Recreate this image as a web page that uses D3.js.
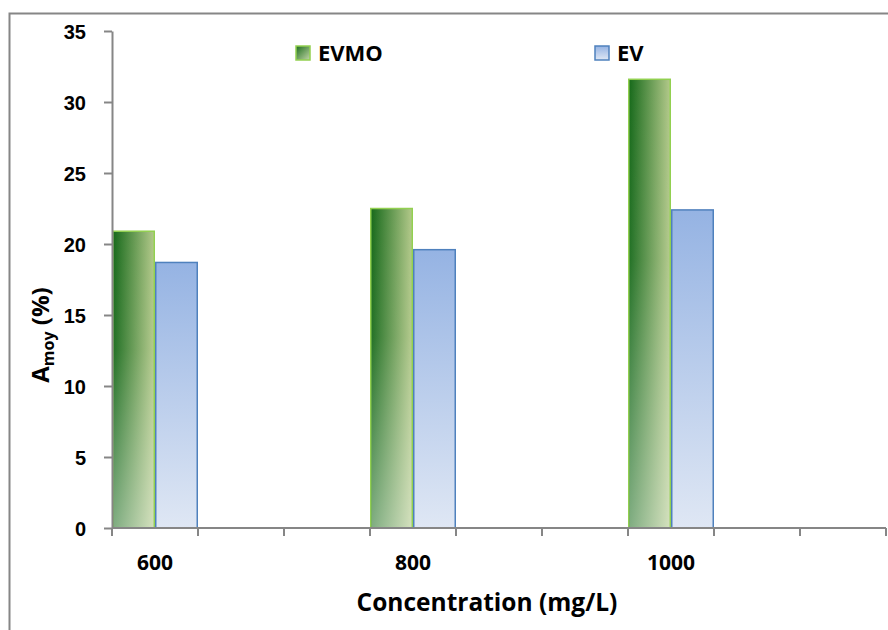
<!DOCTYPE html>
<html>
<head>
<meta charset="utf-8">
<script src="https://cdn.jsdelivr.net/npm/d3@7"></script>
<style>
  body { margin: 0; background: #fff; }
  svg { display: block; font-family: "Open Sans", "Noto Sans", sans-serif; }
</style>
</head>
<body>
<div id="chart"></div>
<script>
// data
const categories = ["600", "800", "1000"];
const seriesNames = ["EVMO", "EV"];
const evmoValues = [20.9, 22.5, 31.6];
const evValues = [18.7, 19.6, 22.4];
const yTicks = [0, 5, 10, 15, 20, 25, 30, 35];

const width = 888, height = 630;
const margin = {top: 31, right: 2, bottom: 102, left: 112};
const axisColor = '#868686';

// excel category axis: 9 slots, each data category sits every 3rd slot
const slotCount = 9, slotStep = 3;

const svg = d3.select('#chart')
  .append('svg')
  .attr('width', width)
  .attr('height', height);

const defs = svg.append('defs');

const evmoGrad = defs.append('linearGradient')
  .attr('id', 'evmoGrad')
  .attr('x1', '0%').attr('x2', '100%').attr('y1', '0%').attr('y2', '0%');
evmoGrad.append('stop').attr('offset', '0%').attr('stop-color', '#16691a');
evmoGrad.append('stop').attr('offset', '100%').attr('stop-color', '#b3c98a');

const fadeGrad = defs.append('linearGradient')
  .attr('id', 'fadeGrad')
  .attr('x1', '0%').attr('x2', '0%').attr('y1', '0%').attr('y2', '100%');
fadeGrad.append('stop').attr('offset', '0%').attr('stop-color', '#fff').attr('stop-opacity', 0);
fadeGrad.append('stop').attr('offset', '40%').attr('stop-color', '#fff').attr('stop-opacity', 0.05);
fadeGrad.append('stop').attr('offset', '100%').attr('stop-color', '#fff').attr('stop-opacity', 0.45);

const evGrad = defs.append('linearGradient')
  .attr('id', 'evGrad')
  .attr('x1', '0%').attr('x2', '0%').attr('y1', '0%').attr('y2', '100%');
evGrad.append('stop').attr('offset', '0%').attr('stop-color', '#95b3e3');
evGrad.append('stop').attr('offset', '100%').attr('stop-color', '#dfe7f4');

const evmoLegGrad = defs.append('linearGradient')
  .attr('id', 'evmoLegGrad')
  .attr('x1', '0%').attr('x2', '100%').attr('y1', '0%').attr('y2', '100%');
evmoLegGrad.append('stop').attr('offset', '0%').attr('stop-color', '#1d6d1d');
evmoLegGrad.append('stop').attr('offset', '100%').attr('stop-color', '#c3d6a8');

// outer frame (runs off the right and bottom edges)
svg.append('path')
  .attr('d', `M9.5,${height + 5} V13.5 H${width + 5}`)
  .attr('fill', 'none')
  .attr('stroke', axisColor)
  .attr('stroke-width', 2);

const x = d3.scaleBand()
  .domain(d3.range(slotCount))
  .range([margin.left, width - margin.right])
  .padding(0);

const y = d3.scaleLinear()
  .domain([0, 35])
  .range([height - margin.bottom, margin.top]);

const inner = d3.scaleBand()
  .domain(seriesNames)
  .range([0, x.bandwidth()])
  .padding(0);

const rows = categories.map((c, i) => ({cat: c, slot: i * slotStep, EVMO: evmoValues[i], EV: evValues[i]}));

// bars
const groups = svg.append('g')
  .selectAll('g')
  .data(rows)
  .join('g')
  .attr('transform', d => `translate(${x(d.slot)},0)`);

groups.append('rect')
  .attr('x', inner('EVMO') + 0.75)
  .attr('y', d => y(d.EVMO))
  .attr('width', inner.bandwidth() - 1.5)
  .attr('height', d => y(0) - y(d.EVMO))
  .attr('fill', 'url(#evmoGrad)')
  .attr('stroke', '#92d050')
  .attr('stroke-width', 1.5);

groups.append('rect')
  .attr('x', inner('EVMO') + 1.5)
  .attr('y', d => y(d.EVMO) + 1)
  .attr('width', inner.bandwidth() - 3)
  .attr('height', d => y(0) - y(d.EVMO) - 1)
  .attr('fill', 'url(#fadeGrad)');

groups.append('rect')
  .attr('x', inner('EV') + 0.75)
  .attr('y', d => y(d.EV))
  .attr('width', inner.bandwidth() - 1.5)
  .attr('height', d => y(0) - y(d.EV))
  .attr('fill', 'url(#evGrad)')
  .attr('stroke', '#4f81bd')
  .attr('stroke-width', 1.5);

// y axis
const yAxis = svg.append('g')
  .attr('transform', `translate(${margin.left},0)`)
  .call(d3.axisLeft(y).tickValues(yTicks).tickSize(8).tickSizeOuter(0).tickPadding(18));
yAxis.select('.domain').attr('stroke', axisColor).attr('stroke-width', 2);
yAxis.selectAll('.tick line').attr('stroke', axisColor).attr('stroke-width', 2);
yAxis.selectAll('.tick text')
  .attr('fill', '#000')
  .attr('font-size', 20)
  .attr('font-weight', 'bold')
  .attr('dy', '0.35em');

// x axis: ticks at slot boundaries
const xBase = y(0);
const boundaries = d3.range(slotCount + 1).map(i => margin.left + i * x.step());
svg.append('line')
  .attr('x1', margin.left).attr('x2', width - margin.right)
  .attr('y1', xBase).attr('y2', xBase)
  .attr('stroke', axisColor).attr('stroke-width', 2);
svg.append('g')
  .selectAll('line')
  .data(boundaries)
  .join('line')
  .attr('x1', d => d).attr('x2', d => d)
  .attr('y1', xBase).attr('y2', xBase + 8)
  .attr('stroke', axisColor).attr('stroke-width', 2);

svg.append('g')
  .selectAll('text')
  .data(rows)
  .join('text')
  .attr('x', d => x(d.slot) + x.bandwidth() / 2)
  .attr('y', 570)
  .attr('text-anchor', 'middle')
  .attr('font-size', 21)
  .attr('font-weight', 'bold')
  .text(d => d.cat);

// axis titles
svg.append('text')
  .attr('x', 487)
  .attr('y', 611)
  .attr('text-anchor', 'middle')
  .attr('font-size', 24.5)
  .attr('font-weight', 'bold')
  .text('Concentration (mg/L)');

const yTitle = svg.append('text')
  .attr('transform', 'translate(49,335) rotate(-90)')
  .attr('text-anchor', 'middle')
  .attr('font-size', 24)
  .attr('font-weight', 'bold');
yTitle.append('tspan').text('A');
yTitle.append('tspan').attr('font-size', 16).attr('dy', 5).text('moy');
yTitle.append('tspan').attr('dy', -5).text(' (%)');

// legend
const legend = [
  {name: 'EVMO', x: 295, fill: 'url(#evmoLegGrad)', stroke: '#92d050'},
  {name: 'EV', x: 594, fill: 'url(#evGrad)', stroke: '#4f81bd'}
];
const lg = svg.append('g')
  .selectAll('g')
  .data(legend)
  .join('g')
  .attr('transform', d => `translate(${d.x},45)`);
lg.append('rect')
  .attr('x', 1).attr('y', 1)
  .attr('width', 14).attr('height', 14)
  .attr('fill', d => d.fill)
  .attr('stroke', d => d.stroke)
  .attr('stroke-width', 1.5);
lg.append('text')
  .attr('x', 23)
  .attr('y', 16)
  .attr('font-size', 22)
  .attr('font-weight', 'bold')
  .text(d => d.name);
</script>
</body>
</html>
